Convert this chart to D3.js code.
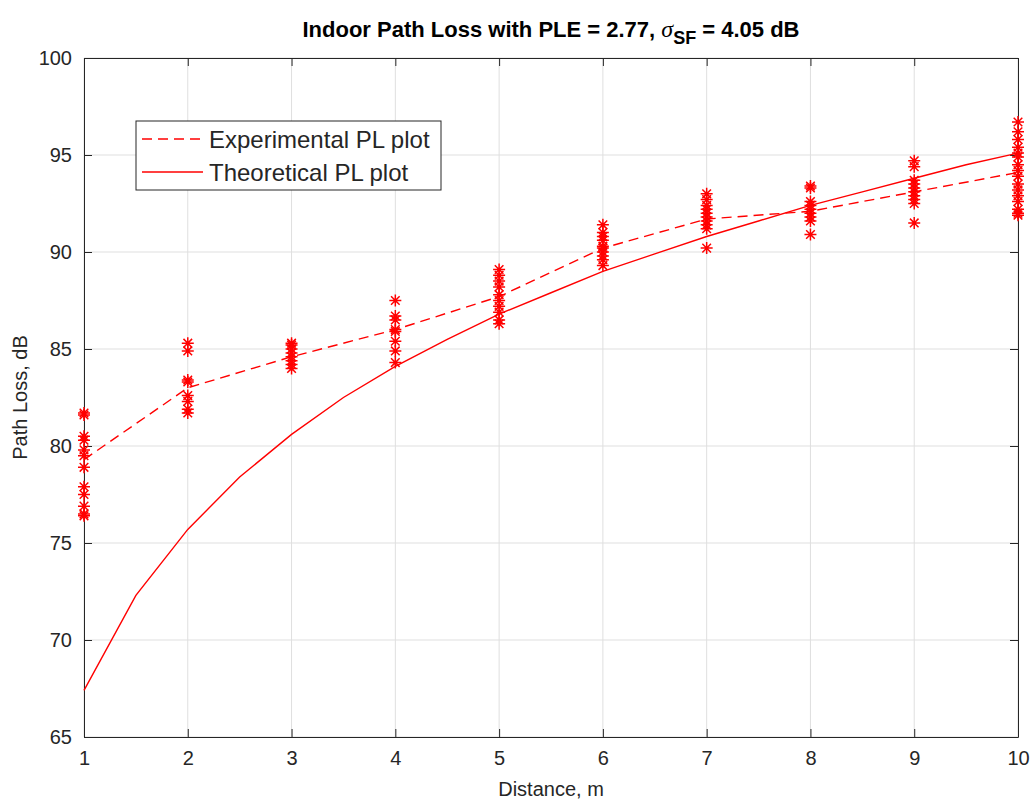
<!DOCTYPE html>
<html>
<head>
<meta charset="utf-8">
<script src="https://cdn.jsdelivr.net/npm/d3@7"></script>
<style>
  body { margin: 0; background: #fff; }
  svg { display: block; font-family: "Liberation Sans", Arial, sans-serif; }
</style>
</head>
<body>
<svg id="chart" width="1035" height="804"></svg>
<script>
// distance points (m) where measurements were taken
const distances = [1, 2, 3, 4, 5, 6, 7, 8, 9, 10];

// mean measured path loss at each distance (dashed line)
const experimentalPL = [79.3, 83.0, 84.6, 86.0, 87.7, 90.2, 91.7, 92.1, 93.1, 94.1];

// theoretical model curve, sampled every 0.5 m
const theoryDist = [1, 1.5, 2, 2.5, 3, 3.5, 4, 4.5, 5, 5.5, 6, 6.5, 7, 7.5, 8, 8.5, 9, 9.5, 10];
const theoryPL = [67.4, 72.3, 75.7, 78.4, 80.6, 82.5, 84.1, 85.5, 86.8, 87.9, 89.0, 89.9, 90.8, 91.6, 92.4, 93.1, 93.8, 94.5, 95.1];

// individual measurements (stars), one list per distance
const measuredPL = [
  [81.7, 81.6, 80.5, 80.3, 79.8, 79.5, 78.9, 77.9, 77.5, 76.9, 76.5, 76.4],
  [85.3, 84.9, 83.4, 83.3, 82.6, 82.3, 81.9, 81.7],
  [85.3, 85.2, 85.0, 84.8, 84.6, 84.4, 84.2, 84.0],
  [87.5, 86.7, 86.5, 86.0, 85.9, 85.4, 84.9, 84.3],
  [89.1, 88.8, 88.5, 88.2, 87.8, 87.5, 87.2, 86.9, 86.5, 86.3],
  [91.4, 91.0, 90.8, 90.6, 90.3, 90.2, 90.0, 89.8, 89.6, 89.3],
  [93.0, 92.7, 92.4, 92.2, 92.0, 91.8, 91.6, 91.4, 91.2, 90.2],
  [93.4, 93.3, 92.6, 92.4, 92.2, 92.0, 91.8, 91.6, 90.9],
  [94.7, 94.4, 93.7, 93.5, 93.3, 93.1, 92.9, 92.7, 92.5, 91.5],
  [96.7, 96.2, 95.8, 95.4, 95.1, 94.9, 94.5, 94.2, 93.9, 93.5, 93.2, 92.9, 92.6, 92.2, 92.0, 91.9]
];

const xTicks = [1, 2, 3, 4, 5, 6, 7, 8, 9, 10];
const yTicks = [65, 70, 75, 80, 85, 90, 95, 100];

const svg = d3.select("#chart");
let plotLeft = 84, plotRight = 1018, plotTop = 58, plotBottom = 737;
let textColor = "#262626";
let red = "#ff0000";

let xScale = d3.scaleLinear().domain([1, 10]).range([plotLeft, plotRight]);
let yScale = d3.scaleLinear().domain([65, 100]).range([plotBottom, plotTop]);

// grid
let grid = svg.append("g");
grid.selectAll("line.gx").data(xTicks).enter().append("line")
  .attr("x1", d => xScale(d)).attr("x2", d => xScale(d))
  .attr("y1", plotTop).attr("y2", plotBottom)
  .attr("stroke", "#dfdfdf").attr("stroke-width", 1);
grid.selectAll("line.gy").data(yTicks).enter().append("line")
  .attr("x1", plotLeft).attr("x2", plotRight)
  .attr("y1", d => yScale(d)).attr("y2", d => yScale(d))
  .attr("stroke", "#dfdfdf").attr("stroke-width", 1);

// axes (ticks point inward, mirrored on top/right)
function styleAxis(g) {
  g.select(".domain").attr("stroke", textColor);
  g.selectAll(".tick line").attr("stroke", textColor);
  g.selectAll(".tick text").attr("fill", textColor)
    .style("font-size", "20px").style("font-family", "Liberation Sans, Arial, sans-serif");
}
svg.append("g").attr("transform", "translate(0," + plotBottom + ")")
  .call(d3.axisBottom(xScale).tickValues(xTicks).tickSizeInner(-8).tickSizeOuter(0).tickPadding(14))
  .call(styleAxis);
svg.append("g").attr("transform", "translate(" + plotLeft + ",0)")
  .call(d3.axisLeft(yScale).tickValues(yTicks).tickSizeInner(-8).tickSizeOuter(0).tickPadding(12))
  .call(styleAxis);
svg.append("g").attr("transform", "translate(0," + plotTop + ")")
  .call(d3.axisTop(xScale).tickValues(xTicks).tickSizeInner(-8).tickSizeOuter(0).tickFormat(""))
  .call(styleAxis);
svg.append("g").attr("transform", "translate(" + plotRight + ",0)")
  .call(d3.axisRight(yScale).tickValues(yTicks).tickSizeInner(-8).tickSizeOuter(0).tickFormat(""))
  .call(styleAxis);

// theoretical line
let line = d3.line().x(d => xScale(d[0])).y(d => yScale(d[1]));
svg.append("path")
  .datum(theoryDist.map((d, i) => [d, theoryPL[i]]))
  .attr("d", line).attr("fill", "none").attr("stroke", red).attr("stroke-width", 1.4);

// experimental dashed line
svg.append("path")
  .datum(distances.map((d, i) => [d, experimentalPL[i]]))
  .attr("d", line).attr("fill", "none").attr("stroke", red).attr("stroke-width", 1.4)
  .attr("stroke-dasharray", "10,6");

// star markers
let points = [];
measuredPL.forEach((vals, i) => vals.forEach(v => points.push([distances[i], v])));
let r = 6, rd = 4.3;
svg.append("g").selectAll("path").data(points).enter().append("path")
  .attr("transform", d => "translate(" + xScale(d[0]) + "," + yScale(d[1]) + ")")
  .attr("d", "M" + (-r) + ",0H" + r + "M0," + (-r) + "V" + r +
             "M" + (-rd) + "," + (-rd) + "L" + rd + "," + rd +
             "M" + (-rd) + "," + rd + "L" + rd + "," + (-rd))
  .attr("stroke", red).attr("stroke-width", 1.5).attr("fill", "none");

// title
let title = svg.append("text").attr("x", (plotLeft + plotRight) / 2).attr("y", 37)
  .attr("text-anchor", "middle").attr("fill", "#000")
  .style("font-size", "22px").style("font-weight", "bold");
title.append("tspan").text("Indoor Path Loss with PLE = 2.77, ");
title.append("tspan").text("σ").style("font-style", "italic").style("font-weight", "normal")
  .style("font-family", "Liberation Serif, Times New Roman, serif").style("font-size", "24px");
title.append("tspan").text("SF").attr("dy", 7).style("font-size", "18px");
title.append("tspan").text(" = 4.05 dB").attr("dy", -7);

// axis labels
svg.append("text").attr("x", (plotLeft + plotRight) / 2).attr("y", 796)
  .attr("text-anchor", "middle").attr("fill", textColor).style("font-size", "20px")
  .text("Distance, m");
svg.append("text").attr("transform", "translate(27," + ((plotTop + plotBottom) / 2) + ") rotate(-90)")
  .attr("text-anchor", "middle").attr("fill", textColor).style("font-size", "20px")
  .text("Path Loss, dB");

// legend
let legend = svg.append("g");
legend.append("rect").attr("x", 136).attr("y", 121).attr("width", 305).attr("height", 69)
  .attr("fill", "#fff").attr("stroke", textColor).attr("stroke-width", 1);
let legendItems = [
  { label: "Experimental PL plot", dash: "10,6", y: 139 },
  { label: "Theoretical PL plot", dash: null, y: 172 }
];
legendItems.forEach(it => {
  legend.append("line").attr("x1", 142).attr("x2", 203).attr("y1", it.y).attr("y2", it.y)
    .attr("stroke", red).attr("stroke-width", 1.4).attr("stroke-dasharray", it.dash);
  legend.append("text").attr("x", 209).attr("y", it.y + 9).attr("fill", textColor)
    .style("font-size", "24px").text(it.label);
});
</script>
</body>
</html>
